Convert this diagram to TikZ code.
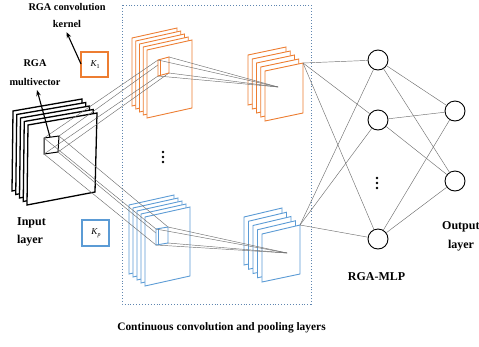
\documentclass[tikz,border=0pt]{standalone}
\usepackage{fontspec}
\setmainfont{Liberation Serif}
\usetikzlibrary{arrows.meta,calc}
\definecolor{fmorange}{HTML}{ED7D31}
\definecolor{fmblue}{HTML}{5B9BD5}
\definecolor{framecol}{HTML}{5F86B0}
\definecolor{linkgray}{HTML}{707070}
\tikzset{
  lbl/.style={font=\fontsize{10.3}{12}\selectfont\bfseries, inner sep=0pt},
  biglbl/.style={font=\fontsize{12}{14}\selectfont\bfseries, inner sep=0pt},
  klbl/.style={font=\fontsize{9}{10}\selectfont\itshape, inner sep=0pt},
  link/.style={draw=linkgray, line width=0.45pt},
  neuron/.style={draw=black, circle, minimum size=20pt, inner sep=0pt, line width=0.9pt},
  kbox/.style={line width=1.2pt},
  pointer/.style={-{Stealth[length=6pt,width=4.5pt]}, line width=1.1pt},
  dotmark/.style={fill=black, circle, inner sep=0pt, minimum size=2.6pt},
}
% one stack of feature maps: front sheet corners, shift per sheet, colour, width
\newcommand{\fmstack}[7]{%
  \foreach \k in {4,3,2,1,0}{%
    \draw[#6, line width=#7, fill=white, line join=miter]
      ($#1+\k*#5$) -- ($#2+\k*#5$) -- ($#3+\k*#5$) -- ($#4+\k*#5$) -- cycle;
  }}
\newcommand{\ksub}[1]{\raisebox{-2pt}{\fontsize{6}{6}\selectfont\upshape #1}}
\begin{document}
\begin{tikzpicture}[x=1pt, y=-1pt]
\useasboundingbox (0,0) rectangle (479,346);

% dotted frame around the convolution and pooling layers
\draw[framecol, line width=0.9pt, dotted] (122,5) rectangle (311,304);

% input layer
\fmstack{(28,125)}{(97,113)}{(95,192)}{(27,205)}{(-3.75,-3.5)}{black}{1.3pt}
% first orange / blue feature maps
\fmstack{(147,50)}{(192,40)}{(192,108)}{(147,118)}{(-3.75,-3)}{fmorange}{0.9pt}
\fmstack{(145,217)}{(190,207)}{(190,276)}{(145,286)}{(-4,-3)}{fmblue}{0.9pt}
% pooled orange / blue feature maps
\fmstack{(265,71)}{(303,63)}{(303,113)}{(265,121)}{(-4.25,-4)}{fmorange}{0.9pt}
\fmstack{(262,234)}{(300,225)}{(300,274)}{(262,282)}{(-4.5,-4.25)}{fmblue}{0.9pt}

% receptive field on the input
\coordinate (iTL) at (44,138); \coordinate (iTR) at (59,136);
\coordinate (iBR) at (58,152); \coordinate (iBL) at (44,154);
\draw[black, line width=1pt] (iTL) -- (iTR) -- (iBR) -- (iBL) -- cycle;

% kernels on the first feature maps
\coordinate (oTL) at (158,60); \coordinate (oTR) at (169,57);
\coordinate (oBR) at (169,73); \coordinate (oBL) at (158,76);
\coordinate (bTL) at (156,229); \coordinate (bTR) at (168,227);
\coordinate (bBR) at (168,243); \coordinate (bBL) at (156,245);
\coordinate (oPt) at (278,87);
\coordinate (bPt) at (287,253);
\coordinate (oCorner) at (303,63);
\coordinate (bCorner) at (300,225);

% projections input -> kernels
\foreach \c in {TL,TR,BR,BL}{
  \draw[link] (i\c) -- (o\c);
  \draw[link] (i\c) -- (b\c);
}
\draw[fmorange, line width=0.9pt, fill=white] (oTL) -- (oTR) -- (oBR) -- (oBL) -- cycle;
\draw[fmblue, line width=0.9pt, fill=white] (bTL) -- (bTR) -- (bBR) -- (bBL) -- cycle;
\draw[fmorange, line width=0.6pt] ($(oTL)+(2.5,0)$) -- ($(oBL)+(2.5,-0.5)$);
\draw[fmblue, line width=0.6pt] ($(bTL)+(2.5,0)$) -- ($(bBL)+(2.5,-0.5)$);

% kernels -> pooled maps
\foreach \c in {TL,TR,BR,BL}{
  \draw[link] (o\c) -- (oPt);
  \draw[link] (b\c) -- (bPt);
}

% vertical ellipsis between branches
\node[dotmark] (vd1) at (163,152) {};
\node[dotmark] (vd2) at (163,157) {};
\node[dotmark] (vd3) at (163,162) {};

% RGA-MLP
\node[neuron] (h1) at (378,60) {};
\node[neuron] (h2) at (378,120) {};
\node[neuron] (h3) at (378,239) {};
\node[neuron] (y1) at (455,111) {};
\node[neuron] (y2) at (455,181) {};
\node[dotmark] (md1) at (377,178) {};
\node[dotmark] (md2) at (377,183) {};
\node[dotmark] (md3) at (377,188) {};

\foreach \h in {h1,h2,h3}{
  \draw[link] (oCorner) -- (\h);
  \draw[link] (bCorner) -- (\h);
  \draw[link] (\h) -- (y1);
  \draw[link] (\h) -- (y2);
}

% kernel boxes
\draw[fmorange, kbox, fill=white] (81,52) rectangle (108,77);
\node[klbl] (k1) at (95,64.5) {K\ksub{1}};
\draw[fmblue, kbox, fill=white] (82,220) rectangle (109,246);
\node[klbl] (kp) at (96,233) {K\ksub{\itshape p}};

% labels
\node[lbl] (kerA) at (67,6.5) {RGA convolution};
\node[lbl] (kerB) at (67,23.5) {kernel};
\node[lbl] (mvA) at (35,63) {RGA};
\node[lbl] (mvB) at (35,81.5) {multivector};
\node[biglbl] (inA) at (31.5,223) {Input};
\node[biglbl] (inB) at (30,241) {layer};
\node[biglbl] (mlp) at (376.5,277) {RGA-MLP};
\node[biglbl, anchor=west] (outA) at (442,227) {Output};
\node[biglbl] (outB) at (461,245.5) {layer};
\node[font=\fontsize{11.4}{13}\selectfont\bfseries, inner sep=0pt] (conv) at (221.5,328) {Continuous convolution and pooling layers};

% pointers to the labels
\coordinate (kArrowStart) at (81,64);
\coordinate (mArrowStart) at (50,137);
\draw[pointer] (kArrowStart) -- (66.5,32);
\draw[pointer] (mArrowStart) -- (37,90);
\end{tikzpicture}
\end{document}
